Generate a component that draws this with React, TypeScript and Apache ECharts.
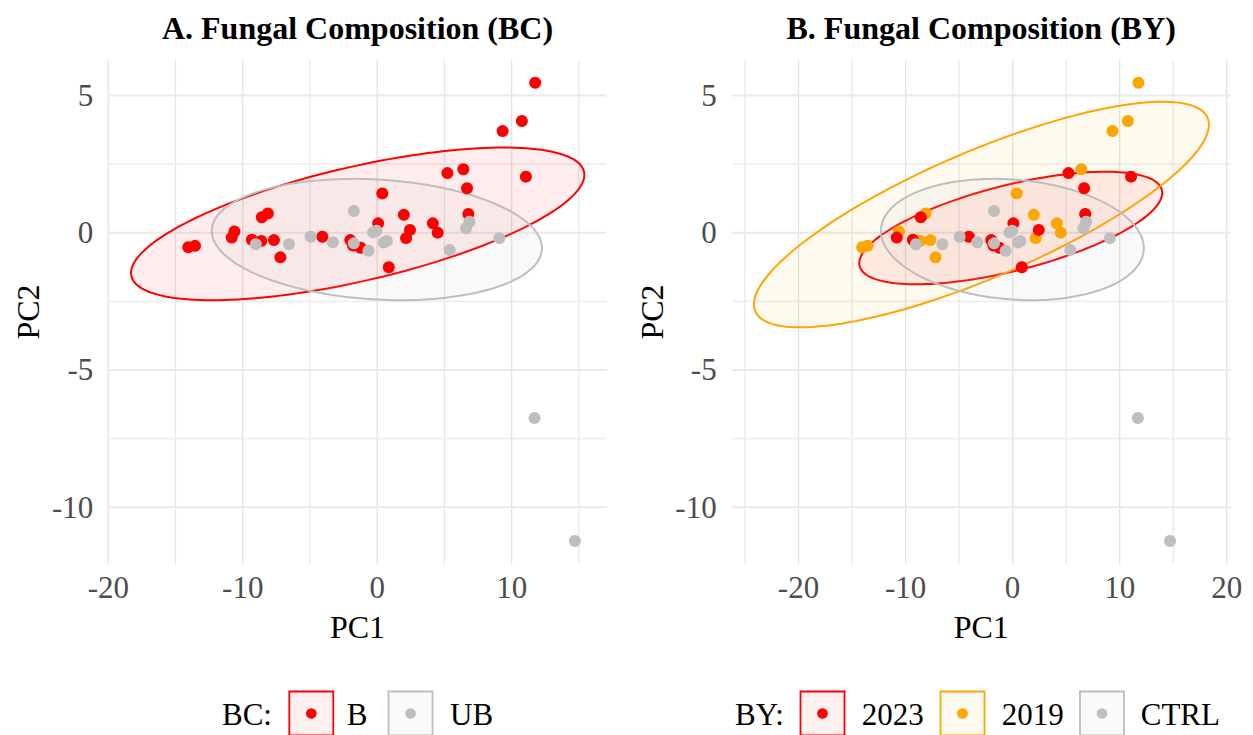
import React, { useEffect, useRef } from "react";
import * as echarts from "echarts";

// ---- data (PC1, PC2) ----
const pts2019: number[][] = [
  [11.75, 5.46], [10.76, 4.07], [9.33, 3.7], [6.41, 2.31], [0.38, 1.43],
  [1.98, 0.65], [4.14, 0.34], [4.5, 0.0], [2.15, -0.2], [-7.68, -0.27],
  [-7.2, -0.9], [-8.62, -0.3], [-8.13, 0.7], [-10.62, 0.04], [-14.05, -0.53],
  [-13.55, -0.48],
];
const pts2023: number[][] = [
  [11.06, 2.04], [5.22, 2.17], [6.68, 1.62], [6.78, 0.68], [2.44, 0.1],
  [0.07, 0.34], [0.86, -1.26], [-2.0, -0.27], [-1.8, -0.47], [-1.24, -0.55],
  [-4.08, -0.15], [-9.32, -0.26], [-8.58, 0.56], [-10.82, -0.18],
];
const ptsCTRL: number[][] = [
  [-1.74, 0.79], [-9.03, -0.42], [-6.56, -0.42], [-4.95, -0.15], [-3.3, -0.35],
  [-1.74, -0.39], [-0.65, -0.66], [-0.3, 0.01], [-0.05, 0.07], [0.49, -0.36],
  [0.72, -0.3], [5.39, -0.63], [6.61, 0.16], [6.86, 0.4], [9.08, -0.2],
  [11.7, -6.75], [14.7, -11.23],
];
const ptsB = [...pts2019, ...pts2023];
const ptsUB = ptsCTRL;

// ---- axis ticks ----
const xTicksA = [-20, -10, 0, 10];
const xMinorA = [-15, -5, 5, 15];
const xTicksB = [-20, -10, 0, 10, 20];
const xMinorB = [-25, -15, -5, 5, 15];
const yTicks = [-10, -5, 0, 5];
const yMinor = [-7.5, -2.5, 2.5];
const xRangeA = [-20, 17.07];
const xRangeB = [-26.24, 20.37];
const yRange = [-12.07, 6.29];

// ---- ellipse parameters: [cx, cy, sx, sy, r] ----
const ellB = [-1.45, 0.32, 16.86, 2.78, 0.642];
const ellUB = [-0.025, -0.25, 12.28, 2.21, -0.142];
const ell2023 = [-0.175, 0.17, 14.15, 2.05, 0.624];
const ell2019 = [-2.915, 0.66, 21.25, 4.11, 0.796];
const ellCTRL = ellUB;

const RED = "#FF0000";
const ORANGE = "#FFA500";
const GREY = "#BEBEBE";
const FONT = "'Liberation Serif', 'Times New Roman', serif";

function gridLines(vals: number[], dir: "x" | "y", idx: number, width: number, color: string) {
  return {
    type: "custom",
    xAxisIndex: idx,
    yAxisIndex: idx,
    silent: true,
    z: 0,
    clip: false,
    encode: dir === "x" ? { x: 0 } : { y: 0 },
    data: vals.map((v) => [v]),
    renderItem: (params: any, api: any) => {
      const cs = params.coordSys;
      const v = api.value(0);
      if (dir === "x") {
        const px = api.coord([v, 0])[0];
        return {
          type: "line",
          shape: { x1: px, y1: cs.y, x2: px, y2: cs.y + cs.height },
          style: { stroke: color, lineWidth: width },
        };
      }
      const py = api.coord([0, v])[1];
      return {
        type: "line",
        shape: { x1: cs.x, y1: py, x2: cs.x + cs.width, y2: py },
        style: { stroke: color, lineWidth: width },
      };
    },
  };
}

function ellipse(p: number[], color: string, fill: string, idx: number) {
  return {
    type: "custom",
    xAxisIndex: idx,
    yAxisIndex: idx,
    silent: true,
    z: 1,
    clip: false,
    encode: { x: 0, y: 1 },
    data: [[p[0], p[1]]],
    renderItem: (_params: any, api: any) => {
      const [cx, cy, sx, sy, r] = p;
      const pts: number[][] = [];
      const n = 180;
      for (let i = 0; i <= n; i++) {
        const t = (i / n) * Math.PI * 2;
        const x = cx + sx * Math.cos(t);
        const y = cy + sy * (r * Math.cos(t) + Math.sqrt(1 - r * r) * Math.sin(t));
        pts.push(api.coord([x, y]));
      }
      return {
        type: "polygon",
        shape: { points: pts },
        style: { fill, stroke: color, lineWidth: 2 },
      };
    },
  };
}

function scatter(data: number[][], color: string, idx: number, name: string) {
  return {
    type: "scatter",
    name,
    xAxisIndex: idx,
    yAxisIndex: idx,
    z: 3,
    symbolSize: 12,
    itemStyle: { color, opacity: 1 },
    data,
  };
}

function legendItem(x: number, color: string, fill: string) {
  return [
    {
      type: "rect",
      shape: { x: x, y: 691.5, width: 44, height: 44 },
      style: { fill, stroke: color, lineWidth: 1.8 },
    },
    { type: "circle", shape: { cx: x + 22, cy: 713.5, r: 5.3 }, style: { fill: color } },
  ];
}

function legendText(x: number, text: string) {
  return {
    type: "text",
    x,
    y: 714,
    style: { text, fontFamily: FONT, fontSize: 31, fill: "#000", textVerticalAlign: "middle" },
  };
}

const axisLabelStyle = { color: "#4D4D4D", fontFamily: FONT, fontSize: 31 };
const axisNameStyle = { color: "#000", fontFamily: FONT, fontSize: 32 };

export default function App() {
  const ref = useRef<HTMLDivElement>(null);
  useEffect(() => {
    if (!ref.current) return;
    const chart = echarts.init(ref.current, undefined, { renderer: "svg" });
    const xAxisCommon = (range: number[], ticks: number[]) => ({
      type: "value",
      min: range[0],
      max: range[1],
      splitLine: { show: false },
      axisLine: { show: false },
      axisTick: { show: false, customValues: ticks },
      axisLabel: { ...axisLabelStyle, margin: 8, customValues: ticks },
      name: "PC1",
      nameLocation: "middle",
      nameGap: 47,
      nameTextStyle: axisNameStyle,
    });
    const yAxisCommon = (gridIndex: number) => ({
      type: "value",
      gridIndex,
      min: yRange[0],
      max: yRange[1],
      splitLine: { show: false },
      axisLine: { show: false },
      axisTick: { show: false, customValues: yTicks },
      axisLabel: { ...axisLabelStyle, margin: 15, customValues: yTicks },
      name: "PC2",
      nameLocation: "middle",
      nameGap: 64,
      nameTextStyle: axisNameStyle,
    });
    const option: any = {
      animation: false,
      backgroundColor: "#ffffff",
      textStyle: { fontFamily: FONT },
      grid: [
        { left: 108.3, top: 60, width: 498.4, height: 504, containLabel: false, outerBoundsMode: "none" },
        { left: 731.7, top: 60, width: 499, height: 504, containLabel: false, outerBoundsMode: "none" },
      ],
      xAxis: [
        { ...xAxisCommon(xRangeA, xTicksA), gridIndex: 0 },
        { ...xAxisCommon(xRangeB, xTicksB), gridIndex: 1 },
      ],
      yAxis: [yAxisCommon(0), yAxisCommon(1)],
      series: [
        gridLines(xMinorA, "x", 0, 1.1, "#E4E4E4"),
        gridLines(yMinor, "y", 0, 1.8, "#EEEEEE"),
        gridLines(xTicksA, "x", 0, 1.3, "#E2E2E2"),
        gridLines(yTicks, "y", 0, 2, "#EAEAEA"),
        gridLines(xMinorB, "x", 1, 1.1, "#E4E4E4"),
        gridLines(yMinor, "y", 1, 1.8, "#EEEEEE"),
        gridLines(xTicksB, "x", 1, 1.3, "#E2E2E2"),
        gridLines(yTicks, "y", 1, 2, "#EAEAEA"),
        ellipse(ellB, RED, "rgba(255,0,0,0.07)", 0),
        ellipse(ellUB, GREY, "rgba(190,190,190,0.09)", 0),
        ellipse(ell2023, RED, "rgba(255,0,0,0.07)", 1),
        ellipse(ell2019, ORANGE, "rgba(255,165,0,0.06)", 1),
        ellipse(ellCTRL, GREY, "rgba(190,190,190,0.09)", 1),
        scatter(ptsB, RED, 0, "B"),
        scatter(ptsUB, GREY, 0, "UB"),
        scatter(pts2019, ORANGE, 1, "2019"),
        scatter(pts2023, RED, 1, "2023"),
        scatter(ptsCTRL, GREY, 1, "CTRL"),
      ],
      graphic: [
        {
          type: "text",
          x: 357.5,
          y: 28,
          style: {
            text: "A. Fungal Composition (BC)",
            fontFamily: FONT,
            fontWeight: "bold",
            fontSize: 32,
            fill: "#000",
            textAlign: "center",
            textVerticalAlign: "middle",
          },
        },
        {
          type: "text",
          x: 981.2,
          y: 28,
          style: {
            text: "B. Fungal Composition (BY)",
            fontFamily: FONT,
            fontWeight: "bold",
            fontSize: 32,
            fill: "#000",
            textAlign: "center",
            textVerticalAlign: "middle",
          },
        },
        legendText(222, "BC:"),
        ...legendItem(289.3, RED, "rgba(255,0,0,0.06)"),
        legendText(346.7, "B"),
        ...legendItem(388.5, GREY, "rgba(190,190,190,0.08)"),
        legendText(450, "UB"),
        legendText(735, "BY:"),
        ...legendItem(800.5, RED, "rgba(255,0,0,0.06)"),
        legendText(861.7, "2023"),
        ...legendItem(940.5, ORANGE, "rgba(255,165,0,0.06)"),
        legendText(1001.7, "2019"),
        ...legendItem(1080, GREY, "rgba(190,190,190,0.08)"),
        legendText(1140.7, "CTRL"),
      ],
    };
    chart.setOption(option);
    return () => chart.dispose();
  }, []);
  return (
    <div
      ref={ref}
      style={{ position: "absolute", left: 0, top: 0, width: 1253, height: 735, background: "#fff" }}
    />
  );
}
